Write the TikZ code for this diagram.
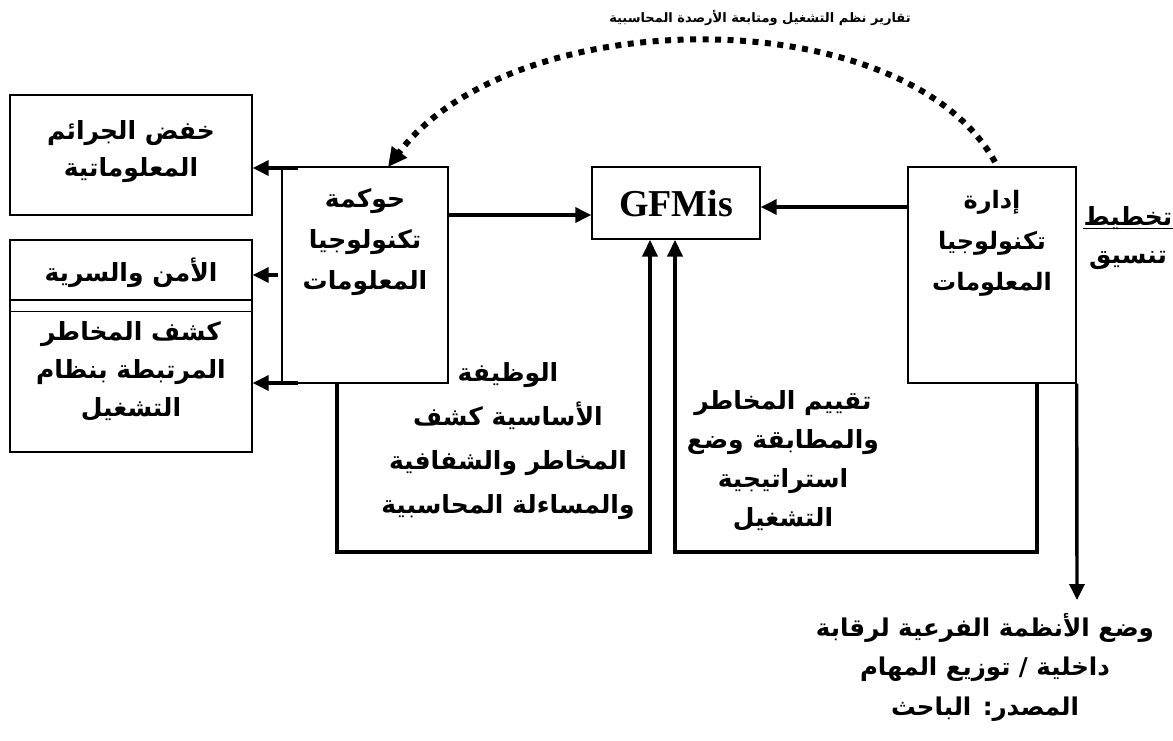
\documentclass[tikz,border=0pt]{standalone}
\usepackage{fontspec}
\newfontfamily\arfont[Script=Arabic]{DejaVu Sans}
\newfontfamily\serifb{Liberation Serif}
\usetikzlibrary{arrows.meta}
\TeXXeTstate=1
\begin{document}
\begin{tikzpicture}[x=1pt,y=-1pt,
  box/.style={draw=black,line width=1.4pt,inner sep=0pt},
  conn/.style={line width=3.4pt,-{Triangle[length=16pt,width=15pt]}},
  loopa/.style={line width=4pt,-{Triangle[length=17pt,width=15pt]}},
  artxt/.style={font=\arfont\bfseries\fontsize{25}{40}\selectfont,align=center,inner sep=0pt},
  dots/.style={line width=6pt,dash pattern=on 6pt off 6.5pt,-{Triangle[length=19pt,width=18pt]}}
]
\useasboundingbox (0,0) rectangle (1173,740);
% boxes
\node[box,minimum width=242pt,minimum height=120pt] (A) at (131,155) {};
\node[box,minimum width=242pt,minimum height=60pt] (B) at (131,270) {};
\node[box,minimum width=242pt,minimum height=152pt] (C) at (131,376) {};
\node[box,minimum width=166pt,minimum height=216pt] (D) at (365,275) {};
\node[box,minimum width=168pt,minimum height=72pt] (G) at (676,203) {};
\node[box,minimum width=168pt,minimum height=216pt] (I) at (992,275) {};
\draw[line width=1.4pt] (C.north west) ++(0,12) coordinate (cl) -- (cl -| C.east);
% texts
\node[artxt,font=\arfont\bfseries\fontsize{25}{37}\selectfont] (At) at (131,152) {\beginR خفض الجرائم\endR\\\beginR المعلوماتية\endR};
\node[artxt] (Bt) at (131,273) {\beginR الأمن والسرية\endR};
\node[artxt,font=\arfont\bfseries\fontsize{25}{38}\selectfont] (Ct) at (131,371) {\beginR كشف المخاطر\endR\\\beginR المرتبطة بنظام\endR\\\beginR التشغيل\endR};
\node[artxt,font=\arfont\bfseries\fontsize{25}{41}\selectfont] (Dt) at (365,242) {\beginR حوكمة\endR\\\beginR تكنولوجيا\endR\\\beginR المعلومات\endR};
\node[artxt,font=\arfont\bfseries\fontsize{24}{41}\selectfont] (It) at (992,243) {\beginR إدارة\endR\\\beginR تكنولوجيا\endR\\\beginR المعلومات\endR};
\node[inner sep=0pt,font=\serifb\bfseries\fontsize{38}{40}\selectfont] (Gt) at (G) {GFMis};
\node[artxt,font=\arfont\bfseries\fontsize{13}{15}\selectfont] (T) at (760,18) {\beginR تقارير نظم التشغيل ومتابعة الأرصدة المحاسبية\endR};
\node[artxt] (P1) at (1128,218) {\beginR تخطيط\endR};
\draw[line width=1.6pt] ([yshift=-3pt]P1.base west) -- ([yshift=-3pt]P1.base east);
\node[artxt] (P2) at (1128,260) {\beginR تنسيق\endR};
\node[artxt,font=\arfont\bfseries\fontsize{25}{44}\selectfont] (L1) at (508,441) {\beginR الوظيفة\endR\\\beginR الأساسية كشف\endR\\\beginR المخاطر والشفافية\endR\\\beginR والمساءلة المحاسبية\endR};
\node[artxt,font=\arfont\bfseries\fontsize{25}{39}\selectfont] (L2) at (783,461) {\beginR تقييم المخاطر\endR\\\beginR والمطابقة وضع\endR\\\beginR استراتيجية\endR\\\beginR التشغيل\endR};
\node[artxt,font=\arfont\bfseries\fontsize{24.5}{39.5}\selectfont] (Bot) at (985,667) {\beginR وضع الأنظمة الفرعية لرقابة\endR\\\beginR داخلية / توزيع المهام\endR\\\beginR المصدر: الباحث\endR};
% connectors from D to left boxes
\coordinate (dA) at (298,168);
\coordinate (dB) at (278,275);
\coordinate (dC) at (298,383);
\draw[conn] (dA) -- (dA -| A.east);
\draw[conn] (dB) -- (dB -| B.east);
\draw[conn] (dC) -- (dC -| C.east);
% D -> G, I -> G
\coordinate (dG) at (448,215);
\coordinate (iG) at (908,207);
\draw[conn] (dG) -- (dG -| G.west);
\draw[conn] (iG) -- (iG -| G.east);
% loops
\coordinate (l1a) at (337,383);
\coordinate (l1b) at (337,552);
\coordinate (l1c) at (650,552);
\draw[loopa] (l1a) -- (l1b) -- (l1c) -- (l1c |- G.south);
\coordinate (l2a) at (1037,383);
\coordinate (l2b) at (1037,552);
\coordinate (l2c) at (675,552);
\draw[loopa] (l2a) -- (l2b) -- (l2c) -- (l2c |- G.south);
% down arrow
\coordinate (dn) at (1077,600);
\draw[conn] (I.south east) -- (dn);
% dotted arc
\coordinate (arcS) at (995,162);
\coordinate (arcE) at (388,167);
\draw[dots] (arcS) .. controls (905,0) and (515,0) .. (arcE);
\end{tikzpicture}
\end{document}
